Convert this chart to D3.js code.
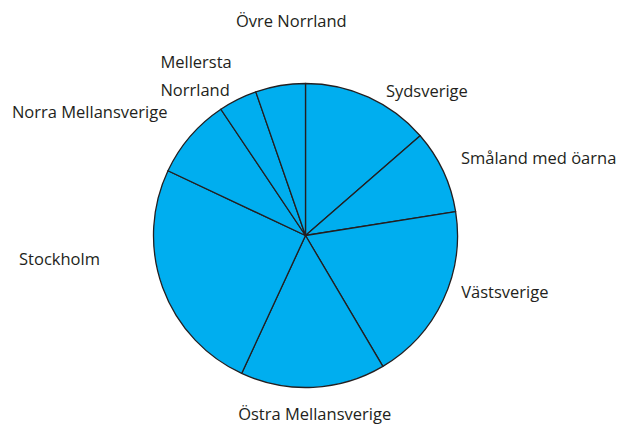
<!DOCTYPE html>
<html><head><meta charset="utf-8"><script src="https://cdn.jsdelivr.net/npm/d3@7"></script>
<style>
  body { margin: 0; background: #fff; }
  text { font-family: "Open Sans", sans-serif; font-size: 16.5px; fill: #231f20; }
</style></head>
<body>
<svg id="chart" width="627" height="426"></svg>
<script>
// Regional shares (%), clockwise from twelve o'clock
const regions = ["Sydsverige", "Småland med öarna", "Västsverige", "Östra Mellansverige",
                 "Stockholm", "Norra Mellansverige", "Mellersta Norrland", "Övre Norrland"];
const shares  = [13.6, 8.9, 19.0, 15.4, 25.1, 8.6, 4.1, 5.3];
// Label text lines per region
const labelLines = [["Sydsverige"], ["Småland med öarna"], ["Västsverige"], ["Östra Mellansverige"],
                    ["Stockholm"], ["Norra Mellansverige"], ["Mellersta", "Norrland"], ["Övre Norrland"]];

// Layout: label anchoring and offsets from the point on the label ring
const labelAnchor = ["start", "start", "start", "middle", "end", "end", "start", "middle"];
const labelNudge  = [[5, 21], [-9.5, -0.5], [-9, -20.5], [0, -3.5], [-34.5, -38.5], [0, -5], [-64, 3], [16, -35]];

const width = 627, height = 426;
const cx = 305.5, cy = 235.5, radius = 152;
const lineGap = 28;

const svg = d3.select("#chart");
const g = svg.append("g").attr("transform", `translate(${cx},${cy})`);

const data = regions.map((name, i) => ({ name, value: shares[i], i }));
const pie = d3.pie().value(d => d.value).sort(null);
const arcs = pie(data);
const arc = d3.arc().innerRadius(0).outerRadius(radius);

g.selectAll("path.slice")
  .data(arcs)
  .join("path")
  .attr("class", "slice")
  .attr("d", arc)
  .attr("fill", "#00aeef")
  .attr("stroke", "#231f20")
  .attr("stroke-width", 1.3)
  .attr("stroke-linejoin", "round");

const labels = g.selectAll("text.label")
  .data(arcs)
  .join("text")
  .attr("class", "label")
  .attr("text-anchor", d => labelAnchor[d.data.i])
  .attr("transform", d => {
    const mid = (d.startAngle + d.endAngle) / 2;
    const x = Math.sin(mid) * (radius + 30);
    const y = -Math.cos(mid) * (radius + 30);
    const [nx, ny] = labelNudge[d.data.i];
    return `translate(${x + nx},${y + ny})`;
  });

labels.each(function(d) {
  const lines = labelLines[d.data.i];
  const start = -(lines.length - 1) * lineGap / 2;
  d3.select(this).selectAll("tspan")
    .data(lines)
    .join("tspan")
    .attr("x", 0)
    .attr("y", (l, k) => start + k * lineGap)
    .attr("dy", "0.36em")
    .text(l => l);
});
</script></body></html>
